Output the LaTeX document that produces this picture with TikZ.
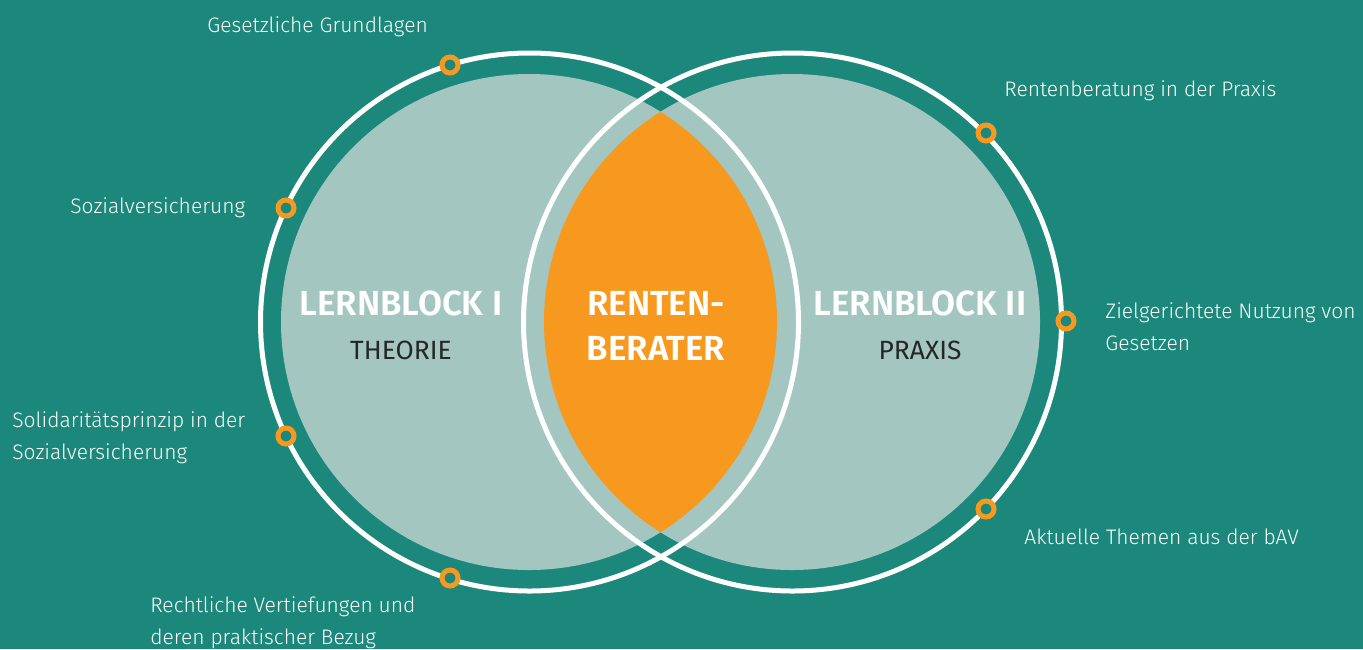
\documentclass[tikz,border=0pt]{standalone}
\usepackage{fontspec}
\setmainfont{Fira Sans}
\newfontfamily\lightfont{Fira Sans Light}
\newfontfamily\titlefont{Fira Sans SemiBold}
\definecolor{bgteal}{HTML}{1B887B}
\definecolor{disc}{HTML}{A3C6C1}
\definecolor{lens}{HTML}{F7991E}
\definecolor{darktext}{HTML}{262626}
\tikzset{
	topic/.style={font=\lightfont\fontsize{10.5}{16}\selectfont, text=white, align=left, anchor=north west, inner sep=0pt},
	blocktitle/.style={font=\titlefont\fontsize{17.4}{20}\selectfont, text=white, anchor=base, inner sep=0pt},
	blocksub/.style={font=\fontsize{13.2}{15}\selectfont, text=darktext, anchor=base, inner sep=0pt},
	ring/.style={draw=white, line width=2.5pt},
	marker/.style={draw=lens, fill=bgteal, line width=2.5pt}
}
\begin{document}
\begin{tikzpicture}[x=0.5pt,y=-0.5pt]
			\useasboundingbox (0,0) rectangle (1363,649);
			\fill[bgteal] (0,0) rectangle (1363,649);
			
			\fill[disc] (529,322) circle[radius=248];
			\fill[disc] (792,322) circle[radius=248];
			\begin{scope}
				\clip (529,322) circle[radius=248];
				\fill[lens] (792,322) circle[radius=248];
			\end{scope}
			
			\draw[ring] (529.5,322) circle[radius=269];
			\draw[ring] (792.5,322) circle[radius=269];
			
			\draw[marker] (450,65) circle[radius=8];
			\draw[marker] (286,208) circle[radius=8];
			\draw[marker] (286,436) circle[radius=8];
			\draw[marker] (450,578) circle[radius=8];
			\draw[marker] (986,133) circle[radius=8];
			\draw[marker] (1066,321) circle[radius=8];
			\draw[marker] (986,509) circle[radius=8];
			
			\node[blocktitle] (lernI) at (401,315) {LERNBLOCK I};
			\node[blocksub] (theorie) at (401,359) {THEORIE};
			\node[blocktitle] (renten) at (656,315) {RENTEN-};
			\node[blocktitle] (berater) at (656,360) {BERATER};
			\node[blocktitle] (lernII) at (920,315) {LERNBLOCK II};
			\node[blocksub] (praxis) at (920,359) {PRAXIS};
			
			\node[topic] (gesetz) at (207,9.6) {\strut Gesetzliche Grundlagen};
			\node[topic] (sozial) at (70,190.6) {\strut Sozialversicherung};
			\node[topic] (solidar) at (12,404.6) {\strut Solidaritätsprinzip in der\\Sozialversicherung};
			\node[topic] (recht) at (150,589.6) {\strut Rechtliche Vertiefungen und\\deren praktischer Bezug};
			\node[topic] (beratung) at (1004,73.6) {\strut Rentenberatung in der Praxis};
			\node[topic] (nutzung) at (1105,295.6) {\strut Zielgerichtete Nutzung von\\Gesetzen};
			\node[topic] (aktuell) at (1024,521.6) {\strut Aktuelle Themen aus der bAV};
\end{tikzpicture}
\end{document}
